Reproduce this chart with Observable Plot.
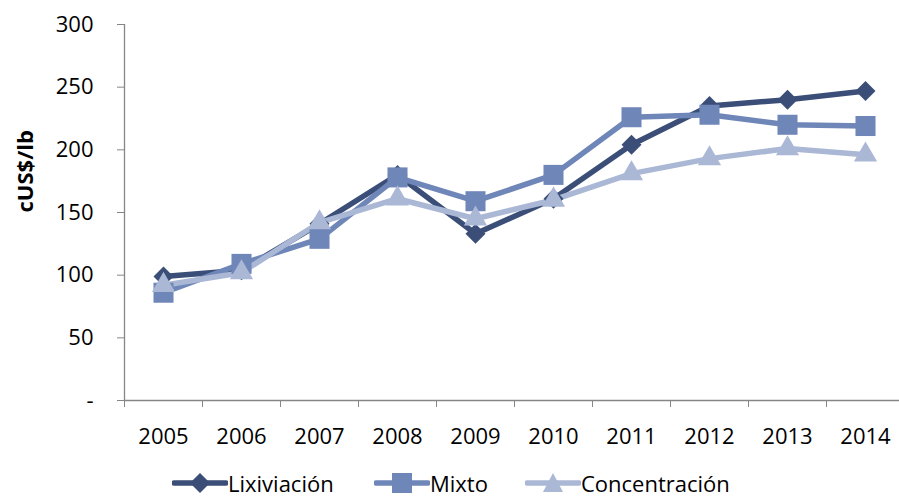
<!DOCTYPE html>
<html>
<head>
<meta charset="utf-8">
<script src="https://cdn.jsdelivr.net/npm/d3@7"></script>
<script src="https://cdn.jsdelivr.net/npm/@observablehq/plot@0.6"></script>
<style>
  html, body { margin: 0; padding: 0; background: #fff; }
  body { width: 899px; height: 501px; overflow: hidden; font-family: "Open Sans", Lato, sans-serif; }
  #legend { height: 29px; position: relative; }
  .item { position: absolute; top: -4px; height: 30px; line-height: 30px; display: flex; align-items: center; font-size: 22px; color: #000; }
  .item svg { display: block; }
</style>
</head>
<body>
<div id="chart"></div>
<div id="legend"></div>
<script>
const years = [2005, 2006, 2007, 2008, 2009, 2010, 2011, 2012, 2013, 2014];
const lixiviacion = [99, 104, 141, 180, 133, 161, 204, 235, 240, 247];
const mixto = [86, 109, 129, 178, 159, 180, 226, 228, 220, 219];
const concentracion = [92, 102, 142, 161, 145, 160, 181, 193, 201, 196];
const seriesNames = ["Lixiviación", "Mixto", "Concentración"];
const seriesColors = ["#3b4e78", "#6f86b8", "#aab8d6"];
const yTicks = [0, 50, 100, 150, 200, 250, 300];

const rows = [];
[lixiviacion, mixto, concentracion].forEach((vals, i) => {
  vals.forEach((v, j) => rows.push({series: seriesNames[i], year: years[j], value: v}));
});
const bounds = d3.range(years[0] - 0.5, years[years.length - 1] + 1, 1);
const symbolFor = {"Lixiviación": "diamond2", "Mixto": "square", "Concentración": "triangle"};
const rFor = {"Lixiviación": 9, "Mixto": 11.3, "Concentración": 8.6};
const gray = "#868686";
const font = '"Open Sans", Lato, sans-serif';

const chart = Plot.plot({
  width: 899,
  height: 472,
  marginTop: 24,
  marginBottom: 72,
  marginLeft: 124,
  marginRight: -5,
  style: {fontFamily: font, fontSize: "22px", color: "#000", background: "#fff"},
  x: {domain: [years[0] - 0.5, years[years.length - 1] + 0.5]},
  y: {domain: [0, 300]},
  marks: [
    Plot.axisY({ticks: yTicks, tickSize: 7, tickPadding: 24, tickFormat: d => d === 0 ? "-" : String(d), stroke: gray, label: null, fontSize: 22}),
    Plot.axisX({ticks: bounds, tickSize: 7, tickFormat: () => "", stroke: gray, label: null}),
    Plot.axisX({ticks: years, tickSize: 0, tickPadding: 28, tickFormat: d => String(d), label: null, fontSize: 22}),
    Plot.ruleX([years[0] - 0.5], {stroke: gray, strokeWidth: 1.3}),
    Plot.ruleY([0], {stroke: gray, strokeWidth: 1.3}),
    Plot.lineY(rows, {x: "year", y: "value", z: "series", stroke: "series", strokeWidth: 5.5, curve: "linear"}),
    ...seriesNames.map(name => Plot.dot(rows.filter(d => d.series === name), {x: "year", y: "value", fill: "series", stroke: "none", symbol: () => symbolFor[name], r: rFor[name]})),
    Plot.text(["cUS$/lb"], {frameAnchor: "left", dx: -99, rotate: -90, fontWeight: "bold", fontSize: 22, text: d => d})
  ],
  color: {domain: seriesNames, range: seriesColors},
  symbol: {domain: ["diamond2", "square", "triangle"], range: ["diamond2", "square", "triangle"]}
});
document.getElementById("chart").appendChild(chart);

// Legend
const legend = document.getElementById("legend");
const lefts = [172, 374, 525];
const shapes = [
  c => `<path d="M28 5 L38 15 L28 25 L18 15 Z" fill="${c}"/>`,
  c => `<rect x="18" y="5" width="20" height="20" fill="${c}"/>`,
  c => `<path d="M28 5 L38 24 L18 24 Z" fill="${c}"/>`
];
seriesNames.forEach((name, i) => {
  const div = document.createElement("div");
  div.className = "item";
  div.style.left = lefts[i] + "px";
  div.innerHTML = `<svg width="56" height="30"><line x1="2" x2="54" y1="15" y2="15" stroke="${seriesColors[i]}" stroke-width="5.5" stroke-linecap="round"/>${shapes[i](seriesColors[i])}</svg><span>${name}</span>`;
  legend.appendChild(div);
});
</script>
</body>
</html>
